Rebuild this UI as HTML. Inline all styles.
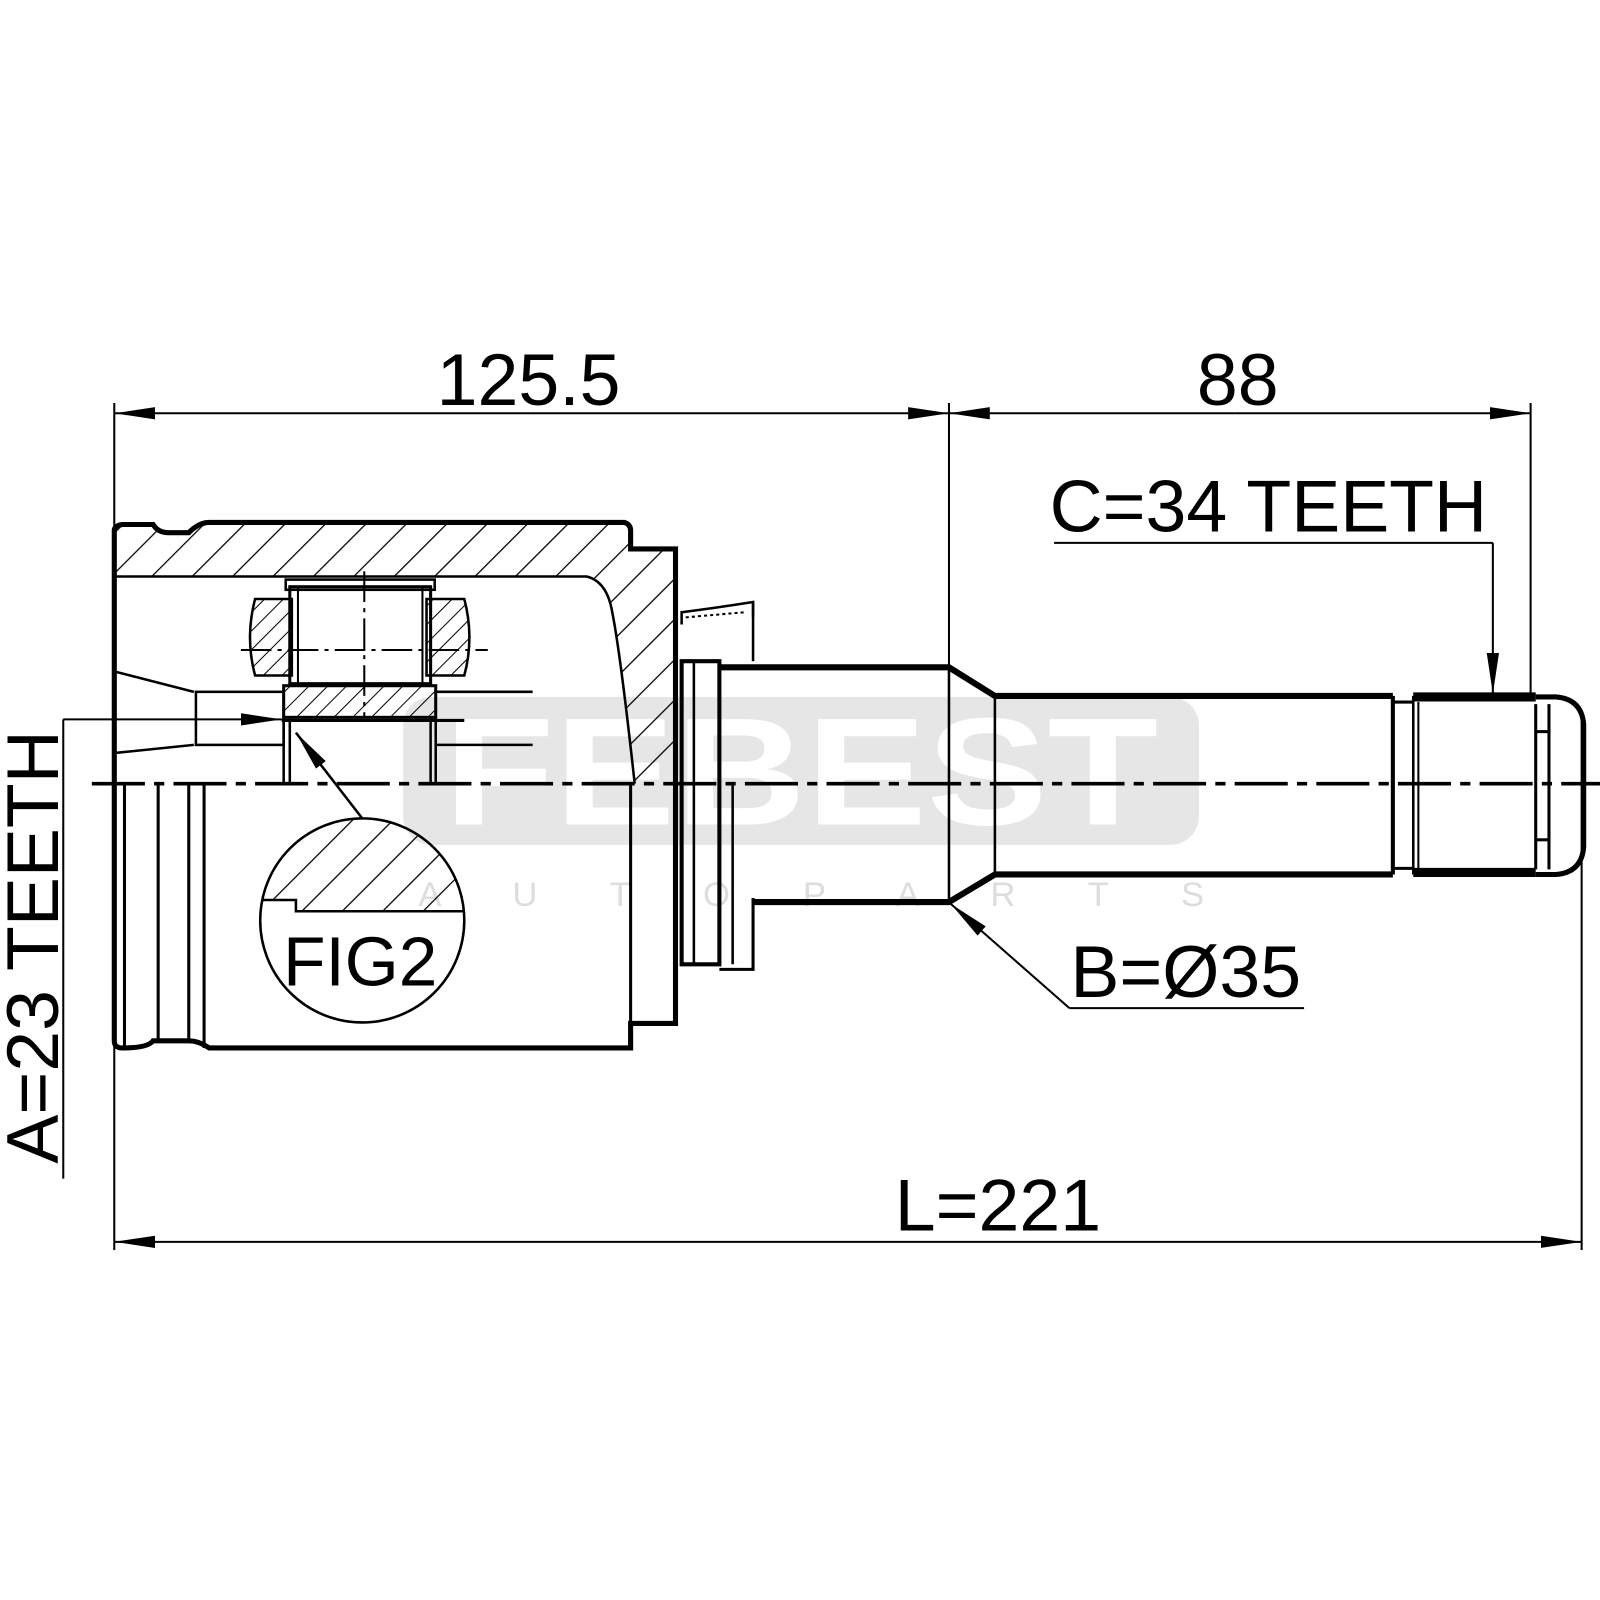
<!DOCTYPE html>
<html><head><meta charset="utf-8"><style>
html,body{margin:0;padding:0;background:#fff}
svg{display:block}
text{font-family:"Liberation Sans",Arial,sans-serif;fill:#000}
</style></head><body>
<svg width="1600" height="1600" viewBox="0 0 1568 1568" xmlns="http://www.w3.org/2000/svg">
<defs>
<pattern id="h" patternUnits="userSpaceOnUse" width="28" height="28" patternTransform="rotate(45)">
<line x1="0" y1="0" x2="0" y2="28" stroke="#000" stroke-width="2.5"/>
</pattern>
<pattern id="hs" patternUnits="userSpaceOnUse" width="13" height="13" patternTransform="rotate(45)">
<line x1="0" y1="0" x2="0" y2="13" stroke="#000" stroke-width="2"/>
</pattern>
<marker id="ar" markerWidth="40" markerHeight="14" refX="40" refY="7" orient="auto" markerUnits="userSpaceOnUse">
<path d="M0,1 L40,7 L0,13 Z" fill="#000"/>
</marker>
</defs>

<!-- watermark -->
<rect x="395" y="683" width="780" height="145" rx="28" fill="#e6e6e6"/>
<text x="785" y="808" font-size="150" font-weight="bold" text-anchor="middle" style="fill:#fff" textLength="700" lengthAdjust="spacingAndGlyphs">FEBEST</text>
<text x="410" y="888" font-size="34" style="fill:#ddd" textLength="770" lengthAdjust="spacing">A U T O P A R T S</text>

<!-- hatched housing wall -->
<path d="M112,520 Q112,515 120,514 L150,514 Q155,522 165,522 L185,522 Q195,512 205,512 L612,512 Q618,514 618,520 L618,538 L662,538 L662,768 L622,768 Q608,640 600,600 Q595,570 575,565 L112,565 Z" fill="url(#h)"/>
<path d="M112,1020 L112,520 Q112,515 120,514 L150,514 Q155,522 165,522 L185,522 Q195,512 205,512 L612,512 Q618,514 618,520 L618,538 L662,538 L662,1003 L618,1003 L618,1027 L205,1027 Q195,1020 185,1020 L150,1020 Q145,1027 120,1027 Q112,1027 112,1020 Z" fill="none" stroke="#000" stroke-width="5"/>
<path d="M112,565 L575,565 Q595,570 600,600 Q608,640 622,768" fill="none" stroke="#000" stroke-width="2.5"/>
<line x1="618" y1="768" x2="618" y2="1003" stroke="#000" stroke-width="3"/>
<g stroke="#000" stroke-width="3">
<line x1="122" y1="768" x2="122" y2="1027"/>
<line x1="155" y1="768" x2="155" y2="1020"/>
<line x1="185" y1="768" x2="185" y2="1020"/>
<line x1="200" y1="768" x2="200" y2="1027"/>
</g>
<g stroke="#000" stroke-width="2.5" fill="none">
<line x1="112" y1="658" x2="190" y2="678"/>
<line x1="112" y1="738" x2="190" y2="730"/>
<rect x="192" y="678" width="86" height="52"/>
<line x1="427" y1="678" x2="522" y2="678"/>
<line x1="427" y1="730" x2="522" y2="730"/>
<line x1="278" y1="703" x2="278" y2="768"/>
<line x1="284" y1="703" x2="284" y2="768"/>
<line x1="422" y1="703" x2="422" y2="768"/>
<line x1="427" y1="703" x2="427" y2="768"/>
</g>
<rect x="278" y="672" width="149" height="31" fill="url(#hs)" stroke="#000" stroke-width="3"/>
<line x1="276" y1="706" x2="455" y2="706" stroke="#000" stroke-width="3"/>
<path d="M250,587 L286,587 L286,662 L250,662 Q240,625 250,587 Z" fill="url(#hs)" stroke="#000" stroke-width="2.5"/>
<path d="M418,587 L455,587 Q465,625 455,662 L418,662 Z" fill="url(#hs)" stroke="#000" stroke-width="2.5"/>
<rect x="284" y="575" width="138" height="95" fill="none" stroke="#000" stroke-width="3"/>
<rect x="280" y="568" width="146" height="10" fill="none" stroke="#000" stroke-width="2.5"/>
<line x1="292" y1="575" x2="292" y2="670" stroke="#000" stroke-width="2"/>
<line x1="414" y1="575" x2="414" y2="670" stroke="#000" stroke-width="2"/>
<line x1="236" y1="637" x2="478" y2="637" stroke="#000" stroke-width="2" stroke-dasharray="30,6,4,6"/>
<line x1="357" y1="560" x2="357" y2="703" stroke="#000" stroke-width="2" stroke-dasharray="30,6,4,6"/>

<!-- FIG2 -->
<clipPath id="fc"><circle cx="355" cy="902" r="100"/></clipPath>
<path d="M250,882 L290,882 L290,893 L460,893 L460,790 L250,790 Z" fill="url(#h)" clip-path="url(#fc)"/>
<path d="M258,882 L290,882 L290,893 L455,893" fill="none" stroke="#000" stroke-width="2.5"/>
<circle cx="355" cy="902" r="100" fill="none" stroke="#000" stroke-width="2.5"/>
<text x="353" y="966" font-size="68" text-anchor="middle">FIG2</text>
<line x1="355" y1="802" x2="290" y2="718" stroke="#000" stroke-width="2.5" marker-end="url(#ar)"/>

<!-- boot clamp -->
<path d="M668,612 L668,600 Q700,596 738,590 L738,605" fill="none" stroke="#000" stroke-width="2.5"/>
<line x1="672" y1="605" x2="730" y2="600" stroke="#000" stroke-width="2" stroke-dasharray="3,3"/>
<!-- shaft -->
<g stroke="#000" fill="none">
<path d="M668,648 L705,648 L705,945 L668,945 Z" stroke-width="4"/>
<line x1="680" y1="648" x2="680" y2="945" stroke-width="2.5"/>
<line x1="738" y1="590" x2="738" y2="648" stroke-width="2.5"/>
<path d="M705,654 L930,654 L975,682 L1365,682" stroke-width="6"/>
<path d="M738,880 L738,950 L705,950" stroke-width="3"/>
<line x1="718" y1="768" x2="718" y2="945" stroke-width="2.5"/>
<path d="M738,884 L930,884 L975,857 L1365,857" stroke-width="6"/>
<line x1="930" y1="654" x2="930" y2="884" stroke-width="2.5"/>
<line x1="975" y1="682" x2="975" y2="857" stroke-width="2.5"/>
<line x1="1365" y1="682" x2="1365" y2="857" stroke-width="4"/>
<path d="M1365,688 L1385,688 M1365,851 L1385,851" stroke-width="3"/>
<line x1="1385" y1="682" x2="1385" y2="857" stroke-width="2.5"/>
<path d="M1385,683 L1505,683 M1385,855 L1505,855" stroke-width="9"/>
<line x1="1390" y1="688" x2="1390" y2="852" stroke-width="2"/>
<line x1="1505" y1="690" x2="1505" y2="852" stroke-width="3"/>
<line x1="1518" y1="690" x2="1518" y2="852" stroke-width="3"/>
<path d="M1505,683 L1525,683 Q1550,685 1552,710 L1552,830 Q1550,855 1525,857 L1505,857" stroke-width="5"/>
<line x1="1505" y1="717" x2="1518" y2="717" stroke-width="3"/>
<line x1="1505" y1="823" x2="1518" y2="823" stroke-width="3"/>
</g>

<line x1="90" y1="768" x2="1568" y2="768" stroke="#000" stroke-width="3.5" stroke-dasharray="52,9,10,9"/>

<g stroke="#000" stroke-width="2">
<line x1="112" y1="395" x2="112" y2="1225"/>
<line x1="930" y1="395" x2="930" y2="652"/>
<line x1="1500" y1="395" x2="1500" y2="680"/>
<line x1="1550" y1="700" x2="1550" y2="1225"/>
<line x1="520" y1="405" x2="112" y2="405" marker-end="url(#ar)"/>
<line x1="520" y1="405" x2="930" y2="405" marker-end="url(#ar)"/>
<line x1="1210" y1="405" x2="930" y2="405" marker-end="url(#ar)"/>
<line x1="1210" y1="405" x2="1500" y2="405" marker-end="url(#ar)"/>
<line x1="830" y1="1217" x2="112" y2="1217" marker-end="url(#ar)"/>
<line x1="830" y1="1217" x2="1550" y2="1217" marker-end="url(#ar)"/>
<line x1="1033" y1="532" x2="1463" y2="532"/>
<line x1="1463" y1="532" x2="1463" y2="680" marker-end="url(#ar)"/>
<line x1="1278" y1="988" x2="1048" y2="988"/>
<line x1="1048" y1="988" x2="932" y2="886" marker-end="url(#ar)"/>
<line x1="62" y1="1155" x2="62" y2="705"/>
<line x1="62" y1="705" x2="276" y2="705" marker-end="url(#ar)"/>
</g>
<text x="518" y="397" font-size="72" text-anchor="middle">125.5</text>
<text x="1213" y="397" font-size="72" text-anchor="middle">88</text>
<text x="1243" y="521" font-size="72" text-anchor="middle">C=34 TEETH</text>
<text x="1162" y="977" font-size="72" text-anchor="middle">B=Ø35</text>
<text x="978" y="1206" font-size="72" text-anchor="middle">L=221</text>
<text x="0" y="0" font-size="72" text-anchor="middle" transform="translate(57,928) rotate(-90)">A=23 TEETH</text>
</svg>
</body></html>
